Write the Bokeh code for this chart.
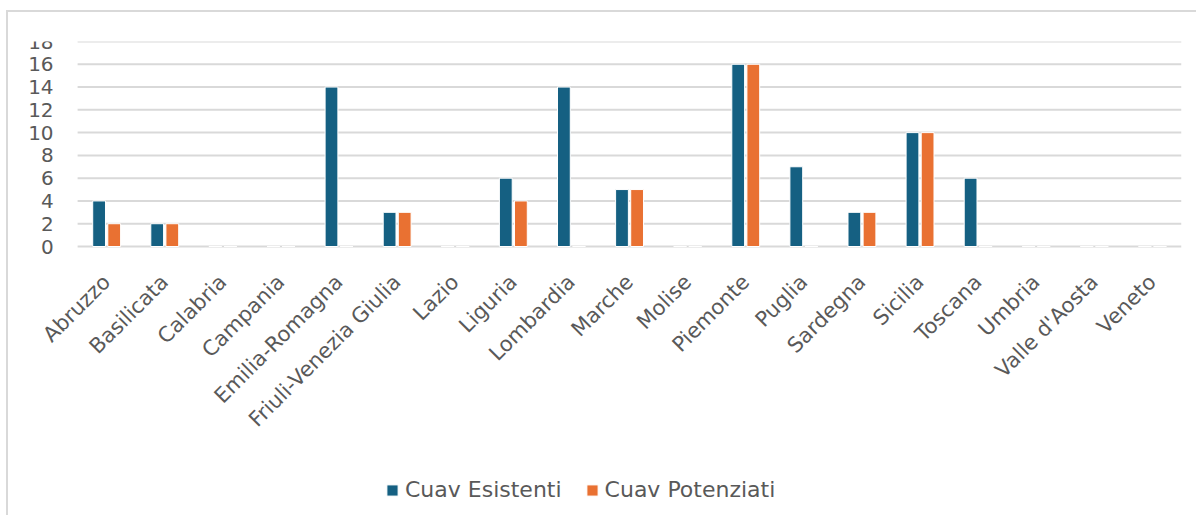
import math
from bokeh.plotting import figure
from bokeh.models import ColumnDataSource, Legend, LegendItem, FixedTicker, Range1d
from bokeh.transform import dodge
from bokeh.embed import file_html
from bokeh.resources import INLINE

regions = ["Abruzzo", "Basilicata", "Calabria", "Campania", "Emilia-Romagna",
           "Friuli-Venezia Giulia", "Lazio", "Liguria", "Lombardia", "Marche",
           "Molise", "Piemonte", "Puglia", "Sardegna", "Sicilia", "Toscana",
           "Umbria", "Valle d'Aosta", "Veneto"]
esistenti = [4, 2, 0, 0, 14, 3, 0, 6, 14, 5, 0, 16, 7, 3, 10, 6, 0, 0, 0]
potenziati = [2, 2, 0, 0, 0, 3, 0, 4, 0, 5, 0, 16, 0, 3, 10, 0, 0, 0, 0]
y_ticks = [0, 2, 4, 6, 8, 10, 12, 14, 16, 18]
series_names = ["Cuav Esistenti", "Cuav Potenziati"]

BLUE = "#156082"
ORANGE = "#E97132"
GRID = "#D9D9D9"
TEXT = "#595959"
FONT = "DejaVu Sans"

positions = list(range(len(regions)))
N = len(regions)

# frame extended left (room for labels) and below 0 (room for labels and legend)
Y_MAX = 18
PX_PER_UNIT = 205 / 18
FRAME_H = 474
Y_MIN = Y_MAX - FRAME_H / PX_PER_UNIT
X_START = -1.5
X_END = N - 0.5

src = ColumnDataSource(dict(pos=positions, region=regions,
                            esistenti=esistenti, potenziati=potenziati))
grid_src = ColumnDataSource(dict(y=y_ticks, x0=[-0.5] * len(y_ticks),
                                 x1=[N - 0.5] * len(y_ticks)))

p = figure(x_range=Range1d(X_START, X_END), y_range=Range1d(Y_MIN, Y_MAX),
           frame_width=1162, frame_height=FRAME_H,
           output_backend="svg", toolbar_location=None,
           min_border_left=11, min_border_right=15, min_border_top=29, min_border_bottom=0,
           styles={"border-top": "2px solid #D9D9D9", "border-left": "2px solid #D9D9D9",
                   "margin-top": "10px", "margin-left": "6px"})

p.segment(x0="x0", x1="x1", y0="y", y1="y", source=grid_src,
          line_color=GRID, line_width=2)

r1 = p.vbar(x=dodge("pos", -0.13), top="esistenti", bottom=0, width=0.22,
            source=src, fill_color=BLUE, line_color="white", line_width=1)
r2 = p.vbar(x=dodge("pos", 0.13), top="potenziati", bottom=0, width=0.22,
            source=src, fill_color=ORANGE, line_color="white", line_width=1)

p.outline_line_color = None
p.background_fill_color = "white"
p.border_fill_color = "white"
p.xgrid.grid_line_color = None
p.ygrid.grid_line_color = None

p.yaxis.fixed_location = -0.5
p.yaxis.ticker = FixedTicker(ticks=y_ticks)
p.yaxis.axis_line_color = None
p.yaxis.major_tick_line_color = None
p.yaxis.minor_tick_line_color = None
p.yaxis.major_label_text_font = FONT
p.yaxis.major_label_text_font_size = "20px"
p.yaxis.major_label_text_color = TEXT
p.yaxis.major_label_standoff = 18

p.xaxis.fixed_location = 0
p.xaxis.ticker = FixedTicker(ticks=positions)
p.xaxis.major_label_overrides = {i: name for i, name in zip(positions, regions)}
p.xaxis.axis_line_color = None
p.xaxis.major_tick_line_color = None
p.xaxis.minor_tick_line_color = None
p.xaxis.major_label_orientation = math.pi / 4
p.xaxis.major_label_text_font = FONT
p.xaxis.major_label_text_font_size = "21px"
p.xaxis.major_label_text_color = TEXT
p.xaxis.major_label_standoff = 26

legend = Legend(items=[LegendItem(label=series_names[0], renderers=[r1]),
                       LegendItem(label=series_names[1], renderers=[r2])],
                orientation="horizontal", location=(366, 13),
                border_line_color=None, background_fill_alpha=0,
                label_text_font=FONT, label_text_font_size="22px",
                label_text_color=TEXT, glyph_width=14, glyph_height=14,
                label_standoff=6, spacing=23, padding=0, margin=0)
p.add_layout(legend, "center")

open("out.html", "w").write(file_html(p, INLINE))
